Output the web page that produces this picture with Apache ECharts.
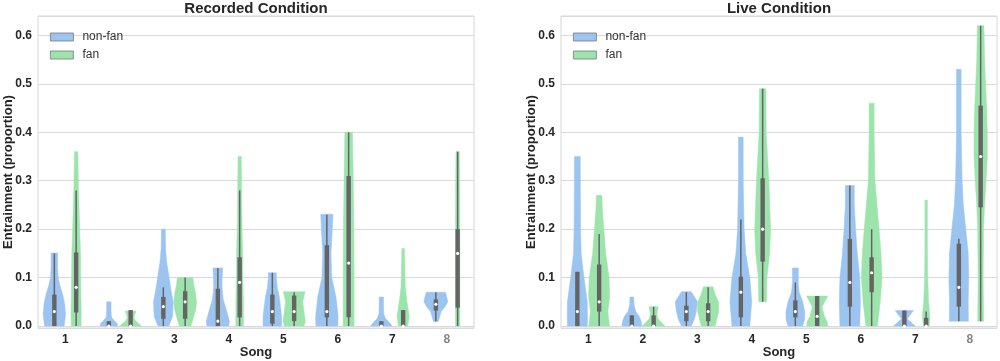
<!DOCTYPE html>
<html>
<head>
<meta charset="utf-8">
<script src="https://cdn.jsdelivr.net/npm/echarts@6/dist/echarts.min.js"></script>
<style>
  html, body { margin: 0; padding: 0; background: #fff; }
  #chart { width: 1000px; height: 361px; }
</style>
</head>
<body>
<div id="chart"></div>
<script>
// songs on the x axis
const songs = ["1", "2", "3", "4", "5", "6", "7", "8"];
const groups = ["non-fan", "fan"];

// violin outlines: [value, half width] from bottom to top, width 1 = full half-slot
const recNonFan = [
  [[0, 0.9], [0.024, 1.03], [0.045, 0.95], [0.065, 0.77], [0.085, 0.5], [0.1, 0.35], [0.12, 0.3], [0.151, 0.3]],
  [[0, 0.8], [0.006, 0.75], [0.012, 0.45], [0.018, 0.25], [0.03, 0.2], [0.05, 0.2]],
  [[0, 0.5], [0.02, 0.85], [0.05, 0.9], [0.075, 0.7], [0.1, 0.53], [0.13, 0.32], [0.16, 0.2], [0.2, 0.18]],
  [[0, 1.0], [0.01, 1.06], [0.03, 0.82], [0.055, 0.5], [0.08, 0.38], [0.1, 0.4], [0.12, 0.45]],
  [[0, 0.85], [0.02, 0.85], [0.04, 0.75], [0.06, 0.64], [0.08, 0.45], [0.1, 0.37], [0.11, 0.37]],
  [[0, 1.0], [0.02, 1.03], [0.06, 0.84], [0.1, 0.45], [0.15, 0.38], [0.2, 0.5], [0.231, 0.56]],
  [[0, 0.98], [0.006, 0.8], [0.015, 0.4], [0.025, 0.22], [0.04, 0.2], [0.06, 0.2]],
  [[0.009, 0.2], [0.015, 0.3], [0.03, 0.48], [0.04, 0.85], [0.05, 1.09], [0.06, 1.0], [0.07, 0.88]],
];
const recFan = [
  [[0, 0.45], [0.03, 0.47], [0.06, 0.44], [0.1, 0.42], [0.15, 0.4], [0.2, 0.32], [0.28, 0.22], [0.36, 0.15]],
  [[0, 1.0], [0.005, 0.75], [0.012, 0.4], [0.018, 0.3], [0.025, 0.4], [0.031, 0.5]],
  [[0, 0.53], [0.02, 0.8], [0.035, 0.98], [0.05, 1.04], [0.07, 0.94], [0.085, 0.8], [0.1, 0.71]],
  [[0, 0.35], [0.05, 0.35], [0.1, 0.3], [0.15, 0.28], [0.2, 0.22], [0.28, 0.18], [0.35, 0.15]],
  [[0, 0.9], [0.01, 1.03], [0.03, 0.9], [0.05, 0.79], [0.062, 0.9], [0.071, 1.0]],
  [[0, 0.5], [0.1, 0.5], [0.2, 0.48], [0.3, 0.42], [0.4, 0.35]],
  [[0, 0.43], [0.02, 0.56], [0.05, 0.35], [0.08, 0.2], [0.12, 0.15], [0.16, 0.12]],
  [[0, 0.2], [0.1, 0.2], [0.2, 0.2], [0.3, 0.18], [0.36, 0.15]],
];
const liveNonFan = [
  [[0, 0.91], [0.02, 0.93], [0.05, 0.91], [0.1, 0.61], [0.15, 0.35], [0.2, 0.3], [0.28, 0.28], [0.35, 0.27]],
  [[0, 0.91], [0.01, 0.85], [0.02, 0.68], [0.03, 0.35], [0.045, 0.2], [0.06, 0.18]],
  [[0, 0.45], [0.015, 0.75], [0.03, 0.91], [0.05, 1.02], [0.06, 0.75], [0.071, 0.45]],
  [[0, 0.82], [0.05, 1.0], [0.1, 0.82], [0.15, 0.45], [0.2, 0.3], [0.3, 0.22], [0.39, 0.21]],
  [[0, 0.68], [0.015, 0.86], [0.03, 0.86], [0.05, 0.68], [0.07, 0.35], [0.09, 0.27], [0.12, 0.27]],
  [[0, 0.91], [0.05, 0.97], [0.1, 0.91], [0.15, 0.68], [0.2, 0.53], [0.25, 0.41], [0.29, 0.41]],
  [[0, 1.0], [0.008, 0.6], [0.015, 0.27], [0.022, 0.5], [0.032, 0.84]],
  [[0.01, 0.88], [0.05, 0.86], [0.1, 0.91], [0.15, 0.86], [0.2, 0.64], [0.25, 0.41], [0.3, 0.3], [0.4, 0.21], [0.53, 0.21]],
];
const liveFan = [
  [[0, 0.95], [0.03, 0.8], [0.06, 0.97], [0.1, 0.91], [0.15, 0.6], [0.2, 0.43], [0.24, 0.3], [0.27, 0.25]],
  [[0, 1.03], [0.008, 0.7], [0.015, 0.4], [0.025, 0.3], [0.04, 0.41]],
  [[0, 0.64], [0.015, 0.8], [0.03, 0.97], [0.05, 0.95], [0.065, 0.65], [0.081, 0.43]],
  [[0.05, 0.36], [0.1, 0.39], [0.15, 0.64], [0.2, 0.73], [0.3, 0.57], [0.4, 0.32], [0.49, 0.3]],
  [[0, 0.97], [0.01, 0.91], [0.02, 0.66], [0.04, 0.45], [0.05, 0.7], [0.062, 0.97]],
  [[0, 0.53], [0.05, 0.79], [0.1, 0.95], [0.15, 0.86], [0.2, 0.68], [0.3, 0.3], [0.4, 0.23], [0.46, 0.23]],
  [[0, 0.27], [0.02, 0.34], [0.05, 0.23], [0.1, 0.14], [0.18, 0.11], [0.26, 0.11]],
  [[0.01, 0.27], [0.1, 0.23], [0.2, 0.27], [0.25, 0.36], [0.3, 0.5], [0.35, 0.61], [0.4, 0.61], [0.45, 0.55], [0.5, 0.45], [0.55, 0.36], [0.62, 0.3]],
];

// inner boxes: [whisker low, q1, median, q3, whisker high]
const recNonFanBox = [
  [0, 0, 0.03, 0.065, 0.15], [0, 0, 0, 0.01, 0.01], [0, 0.015, 0.04, 0.06, 0.08], [0, 0, 0.01, 0.077, 0.12],
  [0, 0.005, 0.03, 0.065, 0.11], [0, 0.018, 0.03, 0.167, 0.23], [0, 0, 0, 0.01, 0.01], [0.01, 0.032, 0.045, 0.055, 0.07],
];
const recFanBox = [
  [0, 0.028, 0.08, 0.152, 0.28], [0, 0, 0, 0.033, 0.033], [0, 0.015, 0.05, 0.072, 0.1], [0, 0.018, 0.09, 0.142, 0.28],
  [0, 0.01, 0.03, 0.063, 0.07], [0, 0.018, 0.13, 0.31, 0.4], [0, 0, 0, 0.033, 0.033], [0, 0.038, 0.15, 0.2, 0.36],
];
const liveNonFanBox = [
  [0, 0, 0.03, 0.112, 0.112], [0, 0, 0, 0.022, 0.022], [0, 0.01, 0.03, 0.042, 0.07], [0, 0.018, 0.07, 0.102, 0.22],
  [0, 0.018, 0.03, 0.053, 0.09], [0, 0.04, 0.09, 0.18, 0.29], [0, 0, 0, 0.032, 0.032], [0.01, 0.04, 0.08, 0.17, 0.18],
];
const liveFanBox = [
  [0, 0.03, 0.05, 0.127, 0.19], [0, 0, 0, 0.022, 0.04], [0, 0.01, 0.03, 0.047, 0.08], [0.05, 0.133, 0.2, 0.305, 0.49],
  [0, 0, 0.02, 0.062, 0.062], [0, 0.07, 0.11, 0.142, 0.2], [0, 0, 0, 0.017, 0.03], [0.01, 0.245, 0.35, 0.455, 0.62],
];

const BLUE = "#9cc4f1";
const GREEN = "#9ce4ac";
const BOXC = "#646464";
const FONT = "Liberation Sans";

function violin(name, axis, profiles, boxes, color, offset) {
  return {
    name,
    type: "custom",
    xAxisIndex: axis,
    yAxisIndex: axis,
    itemStyle: { color },
    clip: false,
    data: boxes.map((b, i) => [i, b[2]]),
    renderItem: (params, api) => {
      const i = params.dataIndex;
      const prof = profiles[i];
      const b = boxes[i];
      const band = api.size([1, 0])[0];
      const cx = api.coord([i, 0])[0] + offset * band;
      const py = (v) => api.coord([i, v])[1];
      const half = 0.2 * band;
      const right = prof.map((p) => [cx + p[1] * half, py(p[0])]);
      const left = prof.slice().reverse().map((p) => [cx - p[1] * half, py(p[0])]);
      return {
        type: "group",
        children: [
          { type: "polygon", shape: { points: right.concat(left) }, style: { fill: color, stroke: color, lineWidth: 0.5 } },
          { type: "line", shape: { x1: cx, y1: py(b[0]), x2: cx, y2: py(b[4]) }, style: { stroke: BOXC, lineWidth: 1.5 } },
          { type: "rect", shape: { x: cx - 2.2, y: py(b[3]), width: 4.4, height: Math.max(py(b[1]) - py(b[3]), 1) }, style: { fill: BOXC } },
          { type: "circle", shape: { cx, cy: py(b[2]), r: 1.6 }, style: { fill: "#fff" } },
        ],
      };
    },
  };
}

function xAxis(i) {
  return {
    type: "category",
    gridIndex: i,
    data: songs,
    name: "Song",
    nameLocation: "middle",
    nameGap: 18,
    nameMoveOverlap: false,
    nameTextStyle: { fontFamily: FONT, fontWeight: "bold", fontSize: 13, color: "#262626", verticalAlign: "top" },
    axisLine: { show: false },
    axisTick: { show: false },
    splitLine: { show: false },
    axisLabel: {
      margin: 6,
      fontFamily: FONT,
      fontWeight: "bold",
      fontSize: 12,
      color: "#262626",
      formatter: (v) => (v === "8" ? "{g|8}" : v),
      rich: { g: { color: "#858585", fontFamily: FONT, fontWeight: "bold", fontSize: 12 } },
    },
  };
}

function yAxis(i) {
  return {
    type: "value",
    gridIndex: i,
    min: -0.004,
    max: 0.64,
    splitNumber: 6,
    name: "Entrainment (proportion)",
    nameLocation: "middle",
    nameGap: 23,
    nameMoveOverlap: false,
    nameTextStyle: { fontFamily: FONT, fontWeight: "bold", fontSize: 13, color: "#262626" },
    axisLine: { show: false },
    axisTick: { show: false },
    splitLine: { lineStyle: { color: "#dadada", width: 1 } },
    axisLabel: {
      margin: 6,
      showMinLabel: false,
      showMaxLabel: false,
      fontFamily: FONT,
      fontWeight: "bold",
      fontSize: 12,
      color: "#262626",
      formatter: (v) => v.toFixed(1),
    },
  };
}

function legend(left) {
  return {
    left,
    top: 26,
    orient: "vertical",
    icon: "rect",
    itemWidth: 23,
    itemHeight: 8,
    itemGap: 6,
    data: groups,
    selectedMode: false,
    itemStyle: { borderColor: "#7a7a7a", borderWidth: 0.8 },
    textStyle: { fontFamily: FONT, fontSize: 12, color: "#333", padding: [0, 0, 0, 4] },
  };
}

const chart = echarts.init(document.getElementById("chart"), null, { renderer: "canvas" });
chart.setOption({
  animation: false,
  backgroundColor: "#fff",
  title: [
    { text: "Recorded Condition", left: 256, top: 1, padding: 0, textAlign: "center",
      textStyle: { fontFamily: FONT, fontWeight: "bold", fontSize: 15, color: "#262626" } },
    { text: "Live Condition", left: 779, top: 1, padding: 0, textAlign: "center",
      textStyle: { fontFamily: FONT, fontWeight: "bold", fontSize: 15, color: "#262626" } },
  ],
  legend: [legend(45), legend(568)],
  grid: [
    { left: 38, right: 526, top: 16, bottom: 33, outerBoundsMode: "none", containLabel: false,
      show: true, borderColor: "#d6d6d6", borderWidth: 1 },
    { left: 561, right: 3, top: 16, bottom: 33, outerBoundsMode: "none", containLabel: false,
      show: true, borderColor: "#d6d6d6", borderWidth: 1 },
  ],
  xAxis: [xAxis(0), xAxis(1)],
  yAxis: [yAxis(0), yAxis(1)],
  series: [
    violin("non-fan", 0, recNonFan, recNonFanBox, BLUE, -0.2),
    violin("fan", 0, recFan, recFanBox, GREEN, 0.2),
    violin("non-fan", 1, liveNonFan, liveNonFanBox, BLUE, -0.2),
    violin("fan", 1, liveFan, liveFanBox, GREEN, 0.2),
  ],
});
</script>
</body>
</html>
